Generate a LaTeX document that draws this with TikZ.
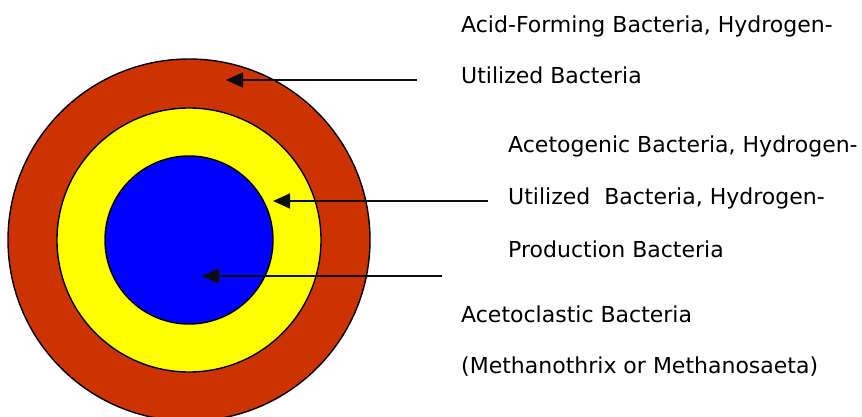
\documentclass[tikz,border=0pt]{standalone}
\usepackage{fontspec}
\setmainfont{DejaVu Sans}
\usetikzlibrary{arrows.meta}
\definecolor{rust}{HTML}{CC3300}
\definecolor{lemon}{HTML}{FFFF00}
\definecolor{royal}{HTML}{0000FF}
\tikzset{
  ring/.style={circle, draw=black, line width=1.4pt, inner sep=0pt},
  pointer/.style={-{Triangle[length=17pt 0 0, width=15pt 0 0]}, line width=1.7pt, black!95},
  label/.style={anchor=base west, inner sep=0pt, font=\fontsize{22}{26}\selectfont}
}
\begin{document}
\begin{tikzpicture}[x=1pt, y=-1pt]
  \useasboundingbox (0,0) rectangle (862,417);
  % rings, outside in
  \coordinate (ctr) at (189,240);
  \node[ring, fill=rust,  minimum size=362pt] (outer)  at (ctr) {};
  \node[ring, fill=lemon, minimum size=264pt] (middle) at (ctr) {};
  \node[ring, fill=royal, minimum size=168pt] (inner)  at (ctr) {};
  % labels: x, baseline, text
  \foreach[count=\i] \xp/\yp/\txt in {%
    461/33/{Acid-Forming Bacteria, Hydrogen-},
    461/84/{Utilized Bacteria},
    508/153/{Acetogenic Bacteria, Hydrogen-},
    508/204/{Utilized\ \ Bacteria, Hydrogen-},
    508/257/{Production Bacteria},
    461/322/{Acetoclastic Bacteria},
    461/373/{(Methanothrix or Methanosaeta)}} {
    \node[label] (l\i) at (\xp,\yp) {\txt};
  }
  % arrows
  \coordinate (outerTail) at (417,80);
  \coordinate (outerHead) at (226,80);
  \coordinate (middleTail) at (488,201);
  \coordinate (middleHead) at (273,201);
  \coordinate (innerTail) at (442,276);
  \coordinate (innerHead) at (202,276);
  \draw[pointer] (outerTail) -- (outerHead);
  \draw[pointer] (middleTail) -- (middleHead);
  \draw[pointer] (innerTail) -- (innerHead);
\end{tikzpicture}
\end{document}
